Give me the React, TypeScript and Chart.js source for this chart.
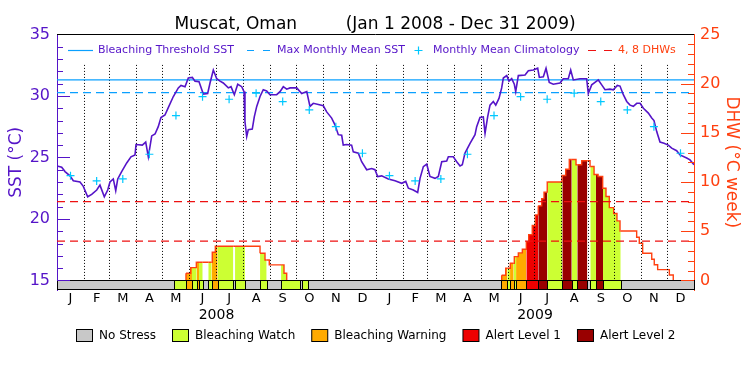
import React, { useEffect, useRef } from 'react';
import { Chart, registerables } from 'chart.js';

Chart.register(...registerables);
Chart.defaults.font.family = '"DejaVu Sans", sans-serif';

// ---------- categories / ticks ----------
const monthLetters = ['J', 'F', 'M', 'A', 'M', 'J', 'J', 'A', 'S', 'O', 'N', 'D'];
const monthDays2008 = [31, 29, 31, 30, 31, 30, 31, 31, 30, 31, 30, 31];
const monthDays2009 = [31, 28, 31, 30, 31, 30, 31, 31, 30, 31, 30, 31];
const yearLabels = ['2008', '2009'];
const sstTicks = [15, 20, 25, 30, 35];
const dhwTicks = [0, 5, 10, 15, 20, 25];

// ---------- SST (day since Jan 1 2008, degC) ----------
const sstDays = [
  0, 5.4, 9.2, 14.9, 18.7, 26.4, 30.2, 35.2, 39.8, 45.6, 49.3, 54.3, 58.2, 60.8, 64.6, 67.4, 69.7, 74.2, 80.0, 84.9,
  89.5, 90.7, 97.9, 101.8, 104.8, 108.7, 112.5, 116.2, 119.3, 123.9, 127.7, 133.5, 139.2, 142.3, 146.9, 150.7, 155.3,
  158.4, 163.0, 167.9, 172.9, 175.6, 179.4, 183.3, 187.1, 190.8, 196.6, 199.7, 203.5, 207.4, 212.0, 214.6, 215.7,
  217.7, 219.5, 224.1, 226.4, 229.2, 233.0, 236.7, 240.6, 244.4, 252.1, 255.9, 259.7, 263.6, 267.4, 275.1, 280.8,
  286.6, 290.3, 294.1, 299.9, 305.6, 309.5, 315.2, 319.0, 322.8, 326.7, 328.5, 332.4, 338.1, 340.0, 345.8, 349.6,
  355.4, 361.1, 364.9, 368.0,
  372.6, 380.2, 387.9, 395.6, 400.2, 403.2, 408.9, 413.9, 416.6, 420.4, 424.3, 428.0, 433.8, 437.6, 441.5, 447.2,
  449.1, 454.8, 458.7, 462.5, 465.1, 468.2, 474.0, 479.7, 481.6, 485.4, 489.2, 491.2, 494.2, 496.9, 500.7, 503.5,
  507.2, 510.3, 512.2, 516.1, 518.7, 521.8, 524.8, 526.4, 529.4, 537.1, 540.9, 546.6, 551.6, 553.5, 558.1, 561.2,
  564.9, 569.5, 577.2, 581.0, 586.7, 589.5, 592.5, 600.2, 607.8, 609.7, 613.6, 621.2, 625.1, 628.9, 634.6, 638.4,
  643.0, 646.1, 649.9, 653.8, 657.6, 661.4, 665.3, 669.1, 672.9, 678.6, 682.5, 685.1, 688.2, 692.0, 696.6, 701.5,
  705.4, 711.1, 714.9, 722.6, 726.4, 731
];
const sstValues = [
  24.3, 24.2, 23.85, 23.5, 23.1, 23.0, 22.65, 21.8, 22.0, 22.35, 22.75, 21.8, 22.35, 23.0, 23.25, 22.3, 23.25, 23.85,
  24.55, 25.05, 25.2, 26.05, 26.0, 26.25, 25.05, 26.75, 26.9, 27.5, 28.25, 28.45, 29.05, 29.95, 30.65, 30.85, 30.75,
  31.45, 31.5, 31.2, 31.15, 30.15, 30.2, 31.05, 32.1, 31.4, 31.2, 31.05, 30.65, 30.75, 30.1, 30.95, 30.75, 30.35,
  27.9, 26.7, 27.25, 27.3, 28.3, 29.15, 29.95, 30.5, 30.4, 30.1, 30.1, 30.35, 30.75, 30.55, 30.65, 30.65, 30.2,
  30.35, 29.15, 29.4, 29.3, 29.2, 28.7, 28.2, 27.65, 26.85, 26.8, 26.0, 26.05, 26.0, 25.45, 25.35, 24.65, 24.0,
  24.1, 24.0, 23.45,
  23.5, 23.25, 23.1, 22.9, 23.05, 22.5, 22.35, 22.15, 23.3, 24.25, 24.45, 23.45, 23.3, 23.45, 24.65, 24.7, 25.05,
  25.05, 24.65, 24.3, 24.4, 25.35, 26.15, 26.85, 27.5, 28.25, 28.3, 26.95, 28.3, 29.25, 29.55, 29.25, 29.8, 30.65,
  31.45, 31.65, 31.2, 31.4, 30.95, 30.35, 31.65, 31.7, 32.05, 32.1, 32.25, 31.5, 31.55, 32.25, 31.1, 30.95, 31.05,
  31.4, 31.4, 32.1, 31.3, 31.4, 31.4, 30.2, 30.9, 31.3, 30.9, 30.5, 30.55, 30.5, 30.85, 30.8, 30.1, 29.55, 29.25,
  29.15, 29.4, 29.4, 29.0, 28.6, 28.2, 28.0, 27.1, 26.25, 26.15, 26.0, 25.75, 25.55, 25.2, 24.95, 24.8, 24.4
];

// Monthly mean climatology (Jan..Dec), repeated each year
const climatology = [23.52, 23.09, 23.25, 25.26, 28.4, 29.94, 29.73, 30.22, 29.54, 28.86, 27.5, 25.34];
const maxMonthlyMean = 30.27;
const bleachingThreshold = 31.3;
const dhwLevels = [4, 8];

// ---------- Degree Heating Weeks (step starts, day / value) ----------
const dhw2008Days = [148.0, 153.4, 159.9, 178.2, 181.7, 233.0, 238.7, 243.6, 260.5, 263.6];
const dhw2008Values = [0.73, 1.3, 1.85, 2.86, 3.47, 2.76, 2.08, 1.58, 0.73, 0];
const dhw2009Days = [
  510.3, 514.9, 520.2, 524.8, 529.4, 534.0, 538.6, 541.3, 545.4, 548.9, 552.3, 556.2, 558.9, 562.6, 579.5, 583.8,
  587.9, 595.6, 602.1, 611.7, 616.3, 620.9, 626.2, 630.0, 633.8, 638.8, 642.6, 646.1, 665.2, 668.2, 672.1, 682.5,
  685.4, 689.3, 702.7, 707.2
];
const dhw2009Values = [
  0.53, 1.24, 1.75, 2.42, 2.8, 3.17, 3.95, 4.66, 5.58, 6.66, 7.58, 8.3, 8.97, 10.0, 10.66, 11.3, 12.29, 11.76, 12.17,
  11.58, 10.76, 10.56, 9.37, 8.53, 7.4, 6.8, 6.05, 5.03, 4.39, 3.78, 2.76, 2.15, 1.6, 1.1, 0.56, 0
];

// ---------- Bleaching alert status (start day / level) ----------
const statusDays = [
  0, 134.6, 148.0, 154.9, 160.3, 163.0, 167.2, 173.6, 177.5, 184.4, 202.3, 204.3, 215.7, 233.0, 240.6, 257.1, 279.2,
  281.2, 288.4, 509.9, 516.8, 519.9, 524.1, 526.8, 538.6, 552.3, 562.7, 579.9, 590.7, 597.1, 608.6, 612.0, 618.5,
  626.6, 646.9
];
const statusCodes = [
  0, 1, 2, 1, 2, 1, 0, 1, 2, 1, 0, 1, 0, 1, 0, 1, 0, 1, 0, 2, 1, 2, 1, 2, 3, 4, 1, 4, 1, 4, 0, 1, 4, 1, 0
];
const statusNames = ['No Stress', 'Bleaching Watch', 'Bleaching Warning', 'Alert Level 1', 'Alert Level 2'];
const statusColors = ['#c8c8c8', '#ccff33', '#ffaa00', '#ee0000', '#990000'];

// ---------- styles ----------
const purple = '#5514c8';
const orangeRed = '#ff4010';
const thresholdColor = '#0aa0ff';
const climColor = '#00c8ff';
const dhwRefColor = '#ee1111';
const monthLineTop = 21.9;
const FONT = '"DejaVu Sans", sans-serif';

// ---------- derived ----------
const monthLens = [...monthDays2008, ...monthDays2009];
const monthStarts: number[] = [];
let accDays = 0;
for (const len of monthLens) {
  monthStarts.push(accDays);
  accDays += len;
}
const totalDays = accDays;
const monthMids = monthStarts.map((s, i) => s + monthLens[i] / 2);
const yearMids = [monthDays2008.reduce((a, b) => a + b, 0) / 2, 366 + monthDays2009.reduce((a, b) => a + b, 0) / 2];

function statusAt(d: number) {
  let k = 0;
  for (let i = 0; i < statusDays.length; i++) if (statusDays[i] <= d) k = i;
  return statusCodes[k];
}

function buildDhw() {
  const pts: { x: number; y: number | null }[] = [];
  const st: number[] = [];
  const wins: [number[], number[]][] = [
    [dhw2008Days, dhw2008Values],
    [dhw2009Days, dhw2009Values]
  ];
  for (const [days, vals] of wins) {
    const start = days[0];
    const end = days[days.length - 1];
    const bps = Array.from(new Set([...days, ...statusDays.filter((d) => d > start && d < end)])).sort((a, b) => a - b);
    pts.push({ x: start, y: 0 });
    st.push(0);
    for (const d of bps) {
      let k = 0;
      for (let i = 0; i < days.length; i++) if (days[i] <= d) k = i;
      pts.push({ x: d, y: vals[k] });
      st.push(statusAt(d));
    }
    pts.push({ x: end, y: null });
    st.push(0);
  }
  return { pts, st };
}

const DHW_INDEX = 6;

const overlayPlugin = {
  id: 'crwOverlay',
  afterDatasetDraw(chart: any, args: any) {
    if (args.index !== DHW_INDEX) return;
    const { ctx } = chart;
    const x = chart.scales.x;
    const yD = chart.scales.yD;
    const y0 = yD.getPixelForValue(0);
    const y1 = yD.getPixelForValue(monthLineTop);
    ctx.save();
    ctx.strokeStyle = '#000';
    ctx.lineWidth = 1;
    ctx.setLineDash([1, 2]);
    monthStarts.slice(1).forEach((d) => {
      const px = Math.round(x.getPixelForValue(d)) + 0.5;
      ctx.beginPath();
      ctx.moveTo(px, y1);
      ctx.lineTo(px, y0);
      ctx.stroke();
    });
    ctx.restore();
  },
  afterDatasetsDraw(chart: any) {
    const { ctx } = chart;
    const x = chart.scales.x;
    const yD = chart.scales.yD;
    const top = Math.round(yD.getPixelForValue(0)) + 0.5;
    const bot = Math.round(yD.getPixelForValue(-1)) - 0.5;
    ctx.save();
    ctx.lineWidth = 1;
    ctx.strokeStyle = '#000';
    for (let i = 0; i < statusDays.length; i++) {
      const s = statusDays[i];
      const e = i + 1 < statusDays.length ? statusDays[i + 1] : totalDays;
      const xs = Math.round(x.getPixelForValue(s)) + 0.5;
      const xe = Math.round(x.getPixelForValue(e)) + 0.5;
      ctx.fillStyle = statusColors[statusCodes[i]];
      ctx.fillRect(xs, top, xe - xs, bot - top);
      ctx.strokeRect(xs, top, xe - xs, bot - top);
    }
    ctx.restore();
  },
  afterDraw(chart: any) {
    const { ctx, chartArea } = chart;
    const yS = chart.scales.yS;
    const yD = chart.scales.yD;
    ctx.save();
    ctx.lineWidth = 1;
    // inward ticks, SST
    ctx.strokeStyle = purple;
    for (let v = 15; v <= 35; v++) {
      const py = Math.round(yS.getPixelForValue(v)) + 0.5;
      const len = v % 5 === 0 ? 13 : 6;
      ctx.beginPath();
      ctx.moveTo(chartArea.left, py);
      ctx.lineTo(chartArea.left + len, py);
      ctx.stroke();
    }
    // inward ticks, DHW
    ctx.strokeStyle = orangeRed;
    for (let v = 0; v <= 25; v++) {
      const py = Math.round(yD.getPixelForValue(v)) + 0.5;
      const len = v % 5 === 0 ? 13 : 6;
      ctx.beginPath();
      ctx.moveTo(chartArea.right, py);
      ctx.lineTo(chartArea.right - len, py);
      ctx.stroke();
    }
    // top frame
    ctx.strokeStyle = '#000';
    const ty = Math.round(chartArea.top) + 0.5;
    ctx.beginPath();
    ctx.moveTo(chartArea.left, ty);
    ctx.lineTo(chartArea.right, ty);
    ctx.stroke();

    // inner legend
    const L = chartArea.left;
    const ly = Math.round(chartArea.top + 16) + 0.5;
    ctx.font = '11px ' + FONT;
    ctx.textBaseline = 'middle';
    ctx.textAlign = 'left';
    ctx.strokeStyle = thresholdColor;
    ctx.lineWidth = 1.2;
    ctx.beginPath();
    ctx.moveTo(L + 11, ly);
    ctx.lineTo(L + 36, ly);
    ctx.stroke();
    ctx.fillStyle = purple;
    ctx.fillText('Bleaching Threshold SST', L + 41, ly);
    ctx.beginPath();
    ctx.moveTo(L + 190, ly);
    ctx.lineTo(L + 197, ly);
    ctx.moveTo(L + 206, ly);
    ctx.lineTo(L + 213, ly);
    ctx.stroke();
    ctx.fillText('Max Monthly Mean SST', L + 220, ly);
    ctx.strokeStyle = climColor;
    ctx.beginPath();
    ctx.moveTo(L + 361.5, ly - 4);
    ctx.lineTo(L + 361.5, ly + 4);
    ctx.moveTo(L + 357.5, ly);
    ctx.lineTo(L + 365.5, ly);
    ctx.stroke();
    ctx.fillText('Monthly Mean Climatology', L + 376, ly);
    ctx.strokeStyle = dhwRefColor;
    ctx.beginPath();
    ctx.moveTo(L + 531, ly);
    ctx.lineTo(L + 539, ly);
    ctx.moveTo(L + 547, ly);
    ctx.lineTo(L + 555, ly);
    ctx.stroke();
    ctx.fillStyle = orangeRed;
    ctx.fillText('4, 8 DHWs', L + 561, ly);

    // bottom status legend
    ctx.font = '12px ' + FONT;
    const boxW = 16;
    const boxH = 12;
    const gapBoxText = 7;
    const gapItems = 16;
    const widths = statusNames.map((n) => ctx.measureText(n).width);
    const total =
      widths.reduce((a, b) => a + b, 0) + statusNames.length * (boxW + gapBoxText) + (statusNames.length - 1) * gapItems;
    let cx = Math.round(376 - total / 2);
    const cy = 335.5;
    ctx.lineWidth = 1;
    ctx.strokeStyle = '#000';
    statusNames.forEach((n, i) => {
      ctx.fillStyle = statusColors[i];
      ctx.fillRect(cx + 0.5, cy - boxH / 2, boxW, boxH);
      ctx.strokeRect(cx + 0.5, cy - boxH / 2, boxW, boxH);
      ctx.fillStyle = '#000';
      ctx.fillText(n, cx + boxW + gapBoxText, cy + 0.5);
      cx += boxW + gapBoxText + widths[i] + gapItems;
    });
    ctx.restore();
  }
};

export default function App() {
  const ref = useRef<HTMLCanvasElement | null>(null);

  useEffect(() => {
    if (!ref.current) return;
    const { pts: dhwPts, st: dhwStatus } = buildDhw();
    const climPts: { x: number; y: number }[] = monthMids.map((d, i) => ({ x: d, y: climatology[i % 12] }));
    const sstPts = sstDays.map((d, i) => ({ x: d, y: sstValues[i] }));
    const hLine = (v: number) => [
      { x: 0, y: v },
      { x: totalDays, y: v }
    ];

    const chart = new Chart(ref.current, {
      type: 'line',
      data: {
        datasets: [
          {
            label: 'Monthly Mean Climatology',
            data: climPts,
            yAxisID: 'yS',
            showLine: false,
            pointStyle: 'cross',
            pointRadius: 4,
            pointBorderColor: climColor,
            pointBorderWidth: 1.2,
            order: 0
          },
          {
            label: 'SST',
            data: sstPts,
            yAxisID: 'yS',
            borderColor: purple,
            borderWidth: 1.6,
            pointRadius: 0,
            tension: 0,
            order: 1
          },
          {
            label: 'Bleaching Threshold SST',
            data: hLine(bleachingThreshold),
            yAxisID: 'yS',
            borderColor: thresholdColor,
            borderWidth: 1.2,
            pointRadius: 0,
            order: 2
          },
          {
            label: 'Max Monthly Mean SST',
            data: hLine(maxMonthlyMean),
            yAxisID: 'yS',
            borderColor: thresholdColor,
            borderWidth: 1.2,
            borderDash: [8, 5],
            pointRadius: 0,
            order: 3
          },
          {
            label: '4 DHW',
            data: hLine(dhwLevels[0]),
            yAxisID: 'yD',
            borderColor: dhwRefColor,
            borderWidth: 1.2,
            borderDash: [8, 5],
            pointRadius: 0,
            order: 4
          },
          {
            label: '8 DHW',
            data: hLine(dhwLevels[1]),
            yAxisID: 'yD',
            borderColor: dhwRefColor,
            borderWidth: 1.2,
            borderDash: [8, 5],
            pointRadius: 0,
            order: 5
          },
          {
            label: 'DHW',
            data: dhwPts,
            yAxisID: 'yD',
            stepped: true,
            fill: 'origin',
            borderColor: orangeRed,
            borderWidth: 1.4,
            backgroundColor: 'rgba(0,0,0,0)',
            pointRadius: 0,
            spanGaps: false,
            segment: {
              backgroundColor: (c: any) => {
                const s = dhwStatus[c.p0DataIndex];
                return s === 0 ? 'rgba(0,0,0,0)' : statusColors[s];
              }
            },
            order: 6
          }
        ] as any
      },
      options: {
        responsive: false,
        animation: false,
        devicePixelRatio: 1,
        events: [],
        layout: { padding: { left: 0, right: 0, top: 0, bottom: 50.7 } },
        scales: {
          x: {
            type: 'linear',
            position: 'bottom',
            min: 0,
            max: totalDays,
            weight: 1,
            afterBuildTicks: (s: any) => {
              s.ticks = monthMids.map((v) => ({ value: v }));
            },
            afterFit: (s: any) => {
              s.height = 17;
            },
            ticks: {
              autoSkip: false,
              maxRotation: 0,
              minRotation: 0,
              padding: 1,
              color: '#000',
              font: { size: 13 },
              callback: (_v: any, i: number) => monthLetters[i % 12]
            },
            grid: { display: false, drawTicks: false },
            border: { display: false }
          },
          x2: {
            type: 'linear',
            position: 'bottom',
            min: 0,
            max: totalDays,
            weight: 2,
            afterBuildTicks: (s: any) => {
              s.ticks = yearMids.map((v) => ({ value: v }));
            },
            afterFit: (s: any) => {
              s.height = 17;
            },
            ticks: {
              autoSkip: false,
              maxRotation: 0,
              minRotation: 0,
              padding: 0,
              color: '#000',
              font: { size: 14 },
              callback: (_v: any, i: number) => yearLabels[i]
            },
            grid: { display: false, drawTicks: false },
            border: { display: false }
          },
          yS: {
            type: 'linear',
            position: 'left',
            min: 14.2,
            max: 35,
            afterBuildTicks: (s: any) => {
              s.ticks = sstTicks.map((v) => ({ value: v }));
            },
            afterFit: (s: any) => {
              s.width = 57;
            },
            ticks: { color: purple, font: { size: 16 }, padding: 7 },
            grid: { display: false, drawTicks: false },
            border: { display: true, color: purple, width: 1 },
            title: {
              display: true,
              text: 'SST (°C)',
              color: purple,
              font: { size: 17 },
              padding: { top: 6, bottom: 0 }
            }
          },
          yD: {
            type: 'linear',
            position: 'right',
            min: -1,
            max: 25,
            afterBuildTicks: (s: any) => {
              s.ticks = dhwTicks.map((v) => ({ value: v }));
            },
            afterFit: (s: any) => {
              s.width = 56;
            },
            ticks: { color: orangeRed, font: { size: 16 }, padding: 6 },
            grid: { display: false, drawTicks: false },
            border: { display: true, color: orangeRed, width: 1 },
            title: {
              display: true,
              text: 'DHW (°C week)',
              color: orangeRed,
              font: { size: 17 },
              padding: { top: 8, bottom: 0 }
            }
          }
        } as any,
        plugins: {
          tooltip: { enabled: false },
          legend: { display: false },
          title: {
            display: true,
            text: 'Muscat, Oman         (Jan 1 2008 - Dec 31 2009)',
            color: '#000',
            font: { size: 17, weight: 'normal' },
            padding: { top: 14, bottom: 0 }
          }
        } as any
      },
      plugins: [overlayPlugin]
    } as any);

    return () => chart.destroy();
  }, []);

  return (
    <div style={{ position: 'absolute', left: 0, top: 0, width: 750, height: 375, background: '#fff' }}>
      <canvas ref={ref} width={750} height={375} style={{ display: 'block' }} />
    </div>
  );
}
